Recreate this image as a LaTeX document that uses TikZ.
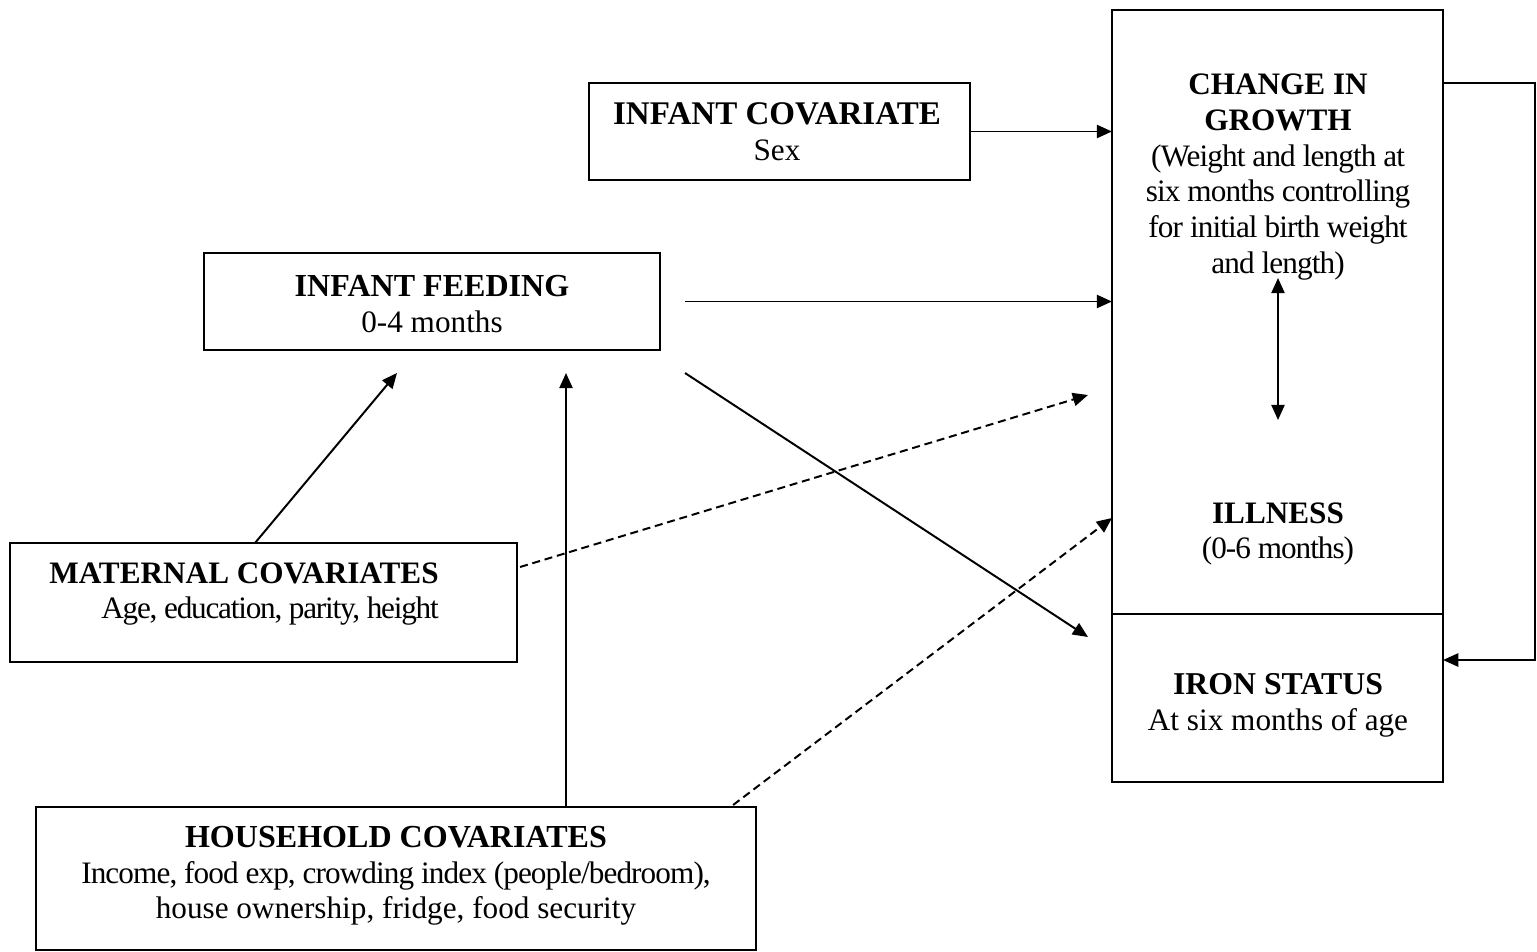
\documentclass[tikz,border=0pt]{standalone}
\usepackage{fontspec}
\setmainfont{Liberation Serif}
\usetikzlibrary{arrows.meta,positioning}

\newcommand{\ttl}[2][22.5]{{\fontsize{#1}{25.4}\selectfont\bfseries #2}}
\newcommand{\tight}[2]{{\addfontfeature{LetterSpace=#1}#2}}

\begin{document}
\begin{tikzpicture}[
  x=0.025cm,
  y=-0.025cm,
  font=\fontsize{22.2}{25.4}\selectfont,
  box/.style={
    rectangle,
    draw=black,
    line width=1.5pt,
    inner sep=0pt,
    outer sep=0pt,
    align=center
  },
  txt/.style={
    align=center,
    inner sep=0pt
  },
  arr/.style={
    -{Triangle[length=0.38cm,width=0.33cm]},
    line width=1.4pt
  },
  dasharr/.style={
    arr,
    dash pattern=on 0.2cm off 0.12cm
  },
  dblarr/.style={
    {Triangle[length=0.38cm,width=0.33cm]}-{Triangle[length=0.38cm,width=0.33cm]},
    line width=1.4pt
  }
]

\useasboundingbox (0,0) rectangle (1537,952);

% left side
\node[box, minimum width=9.525cm, minimum height=2.425cm] (cov) at (779.5,131.5) {};
\node[txt] (covT) at (777,132) {\ttl[23.5]{INFANT COVARIATE}\\Sex};
\node[box, minimum width=11.4cm, minimum height=2.425cm] (feed) at (432,301.5) {};
\node[txt] (feedT) at (432,304) {\ttl[22.8]{INFANT FEEDING}\\0-4 months};
\node[box, minimum width=12.675cm, minimum height=2.975cm] (mat) at (263.5,602.5) {};
\node[txt, align=right] (matT) at (244,594) {%
  \ttl[22.2]{MATERNAL COVARIATES}\\\tight{-3.9}{Age, education, parity, height}};
\node[box, minimum width=18cm, minimum height=3.575cm] (hh) at (396,878.5) {};
\node[txt] (hhT) at (396,876) {%
  \ttl[22.8]{HOUSEHOLD COVARIATES}\\
  \tight{-2.9}{Income, food exp, crowding index (people/bedroom),}\\
  house ownership, fridge, food security};

% right side
\node[box, minimum width=8.275cm, minimum height=15.1cm] (grow) at (1277.5,312) {};
\node[box, minimum width=8.275cm, minimum height=4.2cm] (iron) at (1277.5,698) {};
\node[txt] (growT) at (1278,177) {%
  \ttl[22.2]{CHANGE IN}\\\ttl[22.2]{GROWTH}\\
  \tight{-2.8}{(Weight and length at}\\
  \tight{-2.8}{six months controlling}\\
  \tight{-2.8}{for initial birth weight}\\
  \tight{-2.8}{and length)}};
\node[txt] (ill) at (1278,534) {\ttl[22.2]{ILLNESS}\\\tight{-3.2}{(0-6 months)}};
\node[txt] (ironT) at (1278,705) {\ttl[22.6]{IRON STATUS}\\At six months of age};

\coordinate (feedIn1) at (397,373);
\coordinate (feedIn2) at (566,373);
\coordinate (feedOut) at (685,373);
\coordinate (ironIn) at (1088,637);
\coordinate (growIn) at (1088,395);
\coordinate (illIn) at (1112,518);
\coordinate (dblTop) at (1278,278);
\coordinate (dblBot) at (1278,420);
\coordinate (loopA) at (1535,83);
\coordinate (loopB) at (1535,660);

\draw[arr] (cov.east) -- (cov.east -| grow.west);
\draw[arr, shorten <=0.62cm] (feed.east) -- (feed.east -| grow.west);
\draw[arr] (feedOut) -- (ironIn);
\draw[arr] (mat.north -| 255,0) -- (feedIn1);
\draw[arr] (hh.north -| feedIn2) -- (feedIn2);
\draw[dasharr] (mat.north east |- 0,567) ++(3,0) -- (growIn);
\draw[dasharr] (hh.north east) ++(-23,-2) -- (illIn);
\draw[dblarr] (dblTop) -- (dblBot);
\draw[arr] (grow.east |- loopA) -- (loopA) -- (loopB) -- (iron.east |- loopB);

\end{tikzpicture}
\end{document}
